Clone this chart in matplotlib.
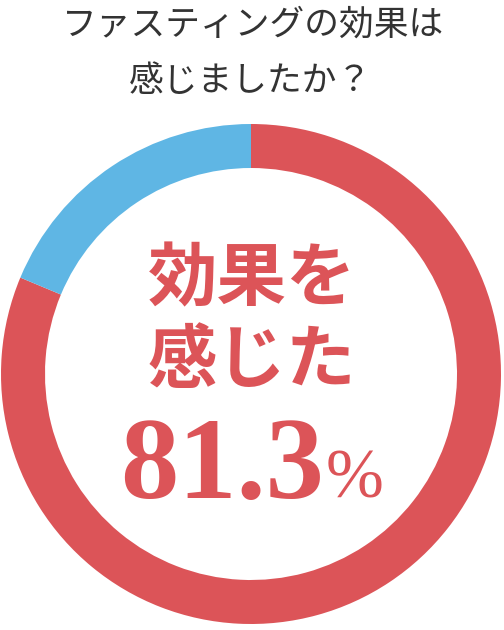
import matplotlib.pyplot as plt

plt.rcParams['font.family'] = ['Noto Sans CJK JP', 'DejaVu Sans']

labels = ['感じた', '感じなかった']
values = [81.3, 18.7]
colors = ['#dc5458', '#5fb6e4']
title_lines = ['ファスティングの効果は', '感じましたか？']
center_label = ['効果を', '感じた']

fig = plt.figure(figsize=(5.04, 6.3), dpi=100)
ax = fig.add_axes([0, 0, 1, 1])

# donut
ax.pie(values, colors=colors, startangle=90, counterclock=False,
       center=(251, 256), radius=250, frame=True,
       wedgeprops=dict(width=44, linewidth=0))
ax.set_xlim(0, 504)
ax.set_ylim(0, 630)
ax.set_aspect('equal')
ax.axis('off')

# title
ax.text(253, 605, title_lines[0], ha='center', va='center', fontsize=25, color='#333333')
ax.text(250, 549, title_lines[1], ha='center', va='center', fontsize=25, color='#333333')

# center text
red = colors[0]
ax.text(252, 350, center_label[0], ha='center', va='center', fontsize=50,
        fontweight='bold', color=red)
ax.text(252, 268, center_label[1], ha='center', va='center', fontsize=50,
        fontweight='bold', color=red)
pct = f'{values[0]:.1f}'
ax.text(324, 132, pct, ha='right', va='baseline', fontsize=84,
        fontweight='bold', color=red, family='Liberation Serif')
ax.text(326, 132, '%', ha='left', va='baseline', fontsize=50,
        fontweight='normal', color=red, family='Liberation Serif')

fig.savefig('out.png', dpi=100)
